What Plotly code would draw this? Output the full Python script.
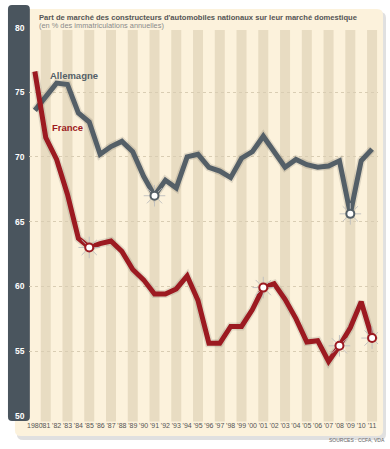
import plotly.graph_objects as go

# ---------------- data ----------------
years = list(range(1980, 2012))
allemagne = [73.6, 74.7, 75.7, 75.6, 73.4, 72.7, 70.2, 70.8, 71.2, 70.4,
             68.5, 67.0, 68.2, 67.6, 70.0, 70.2, 69.2, 68.9, 68.4, 69.9,
             70.4, 71.6, 70.4, 69.2, 69.8, 69.4, 69.2, 69.3, 69.7, 65.6,
             69.7, 70.6]
france = [76.6, 71.5, 69.8, 67.1, 63.7, 63.0, 63.3, 63.5, 62.7, 61.3,
          60.5, 59.4, 59.4, 59.8, 60.8, 58.9, 55.6, 55.6, 56.9, 56.9,
          58.2, 59.9, 60.2, 59.0, 57.5, 55.7, 55.8, 54.2, 55.4, 56.8,
          58.8, 56.0]
de_marker_years = [1991, 2009]
fr_marker_years = [1985, 2001, 2008, 2011]
xtick_labels = ["1980"] + ["'%02d" % (y % 100) for y in years[1:]]
ytick_vals = [50, 55, 60, 65, 70, 75, 80]
stripe_years = [y for y in years if y % 2 == 1]

title = "Part de marché des constructeurs d'automobiles nationaux sur leur marché domestique"
subtitle = "(en % des immatriculations annuelles)"
source = "SOURCES : CCFA, VDA"

# ---------------- styles ----------------
W, H = 390, 449
DE_COL = "#545f67"
FR_COL = "#9c1a21"
BAR_COL = "#4a555e"
CREAM = "#fcf2dc"
BEIGE = "#e8dcc2"
SANS = "Liberation Sans, Arial, sans-serif"

def px(x):
    return x / W

def py(y):
    return 1 - y / H

def rounded(x0, y0, x1, y1, r):
    X = lambda v: px(v)
    Y = lambda v: py(v)
    return (f"M {X(x0+r)},{Y(y0)} L {X(x1-r)},{Y(y0)} Q {X(x1)},{Y(y0)} {X(x1)},{Y(y0+r)} "
            f"L {X(x1)},{Y(y1-r)} Q {X(x1)},{Y(y1)} {X(x1-r)},{Y(y1)} "
            f"L {X(x0+r)},{Y(y1)} Q {X(x0)},{Y(y1)} {X(x0)},{Y(y1-r)} "
            f"L {X(x0)},{Y(y0+r)} Q {X(x0)},{Y(y0)} {X(x0+r)},{Y(y0)} Z")

fig = go.Figure()

def marker_vals(series, myears):
    return [series[years.index(y)] for y in myears]

for series, col in [(allemagne, DE_COL), (france, FR_COL)]:
    fig.add_trace(go.Scatter(x=years, y=series, mode="lines",
                             line=dict(color="rgba(0,0,0,0.10)", width=8),
                             hoverinfo="skip", showlegend=False))
    fig.add_trace(go.Scatter(x=years, y=series, mode="lines",
                             line=dict(color=col, width=5),
                             showlegend=False))

for series, myears, col in [(allemagne, de_marker_years, DE_COL),
                            (france, fr_marker_years, FR_COL)]:
    yv = marker_vals(series, myears)
    fig.add_trace(go.Scatter(x=myears, y=yv, mode="markers",
                             marker=dict(symbol="asterisk-open", size=18,
                                         color="rgba(190,190,190,0.9)",
                                         line=dict(color="rgba(190,190,190,0.9)", width=1)),
                             hoverinfo="skip", showlegend=False))
    fig.add_trace(go.Scatter(x=myears, y=yv, mode="markers",
                             marker=dict(symbol="circle", size=8, color="white",
                                         line=dict(color=col, width=2)),
                             showlegend=False))

shapes = []
shapes.append(dict(type="path", xref="paper", yref="paper", layer="below",
                   path=rounded(15, 12, 386, 440, 6),
                   fillcolor="rgba(0,0,0,0.12)", line=dict(width=0)))
shapes.append(dict(type="path", xref="paper", yref="paper", layer="below",
                   path=rounded(13, 9, 383, 436, 6),
                   fillcolor=CREAM, line=dict(width=0)))
for y in stripe_years:
    shapes.append(dict(type="rect", xref="x", yref="paper", layer="below",
                       x0=y - 0.46, x1=y + 0.46, y0=py(421.5), y1=py(30),
                       fillcolor=BEIGE, line=dict(width=0)))
shapes.append(dict(type="path", xref="paper", yref="paper", layer="below",
                   path=rounded(6, 5, 28, 421, 4),
                   fillcolor=BAR_COL, line=dict(width=0)))
fig.update_layout(shapes=shapes)

ann = []
for v in ytick_vals:
    ann.append(dict(x=px(25), xref="paper", y=v, yref="y", xanchor="right",
                    yanchor="middle", text=str(v), showarrow=False,
                    font=dict(family=SANS, size=8.5, color="white", weight="bold")))
ann.append(dict(x=px(35), xref="paper", y=py(17.5), yref="paper", xanchor="left",
                yanchor="middle", text=title, showarrow=False,
                font=dict(family=SANS, size=7.6, color="#555555", weight="bold")))
ann.append(dict(x=px(35), xref="paper", y=py(25.5), yref="paper", xanchor="left",
                yanchor="middle", text=subtitle, showarrow=False,
                font=dict(family=SANS, size=7.4, color="#8a8a8a")))
ann.append(dict(x=px(46), xref="paper", y=py(75), yref="paper", xanchor="left",
                yanchor="middle", text="Allemagne", showarrow=False,
                font=dict(family=SANS, size=9.5, color=DE_COL, weight="bold")))
ann.append(dict(x=px(48), xref="paper", y=py(127), yref="paper", xanchor="left",
                yanchor="middle", text="France", showarrow=False,
                font=dict(family=SANS, size=9.5, color=FR_COL, weight="bold")))
ann.append(dict(x=px(387), xref="paper", y=py(439.5), yref="paper", xanchor="right",
                yanchor="middle", text=source, showarrow=False,
                font=dict(family=SANS, size=5, color="#666666")))
fig.update_layout(annotations=ann)

fig.update_layout(
    width=W, height=H, autosize=False,
    margin=dict(l=0, r=0, t=0, b=0),
    paper_bgcolor="white", plot_bgcolor="rgba(0,0,0,0)",
    showlegend=False, hovermode=False,
    xaxis=dict(domain=[px(27), px(378)], range=[1979.45, 2011.55],
               tickvals=years, ticktext=xtick_labels, showgrid=False,
               zeroline=False, showline=False, ticks="", tickangle=0,
               ticklabelstandoff=4,
               tickfont=dict(family=SANS, size=7, color="#555555")),
    yaxis=dict(domain=[py(415.7), py(27.5)], range=[50, 80],
               tickvals=ytick_vals, showticklabels=False, showgrid=True,
               gridcolor="#d9cdb3", griddash="dot", gridwidth=1,
               zeroline=False, showline=False, ticks=""),
)

fig.write_html("out.html", config={"displayModeBar": False, "staticPlot": True},
               post_script="document.body.style.margin='0';document.body.style.padding='0';document.body.style.overflow='hidden';")
